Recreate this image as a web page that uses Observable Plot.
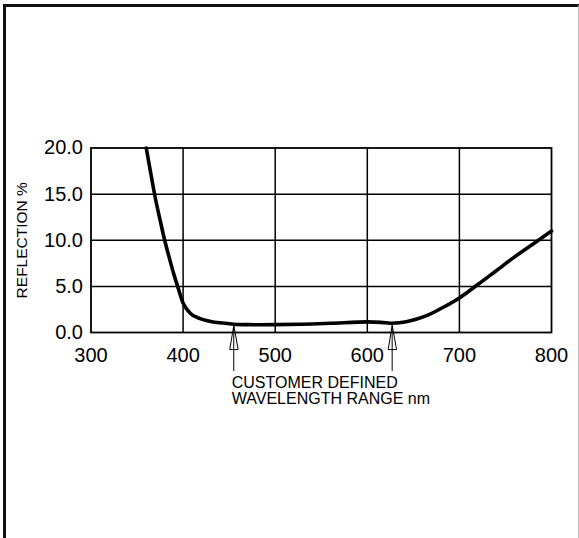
<!DOCTYPE html>
<html>
<head>
<meta charset="utf-8">
<script src="https://cdn.jsdelivr.net/npm/d3@7"></script>
<script src="https://cdn.jsdelivr.net/npm/@observablehq/plot@0.6"></script>
<style>
  html, body { margin: 0; padding: 0; background: #fff; }
  #wrap { position: relative; width: 579px; height: 538px; overflow: hidden; }
  #border { position: absolute; left: 3px; top: 4px; right: 0; bottom: -10px;
            border-top: 3px solid #111; border-left: 3px solid #111; border-right: 1px solid #bbb; box-sizing: border-box; }
  #chart { position: absolute; left: 0; top: 0; }
  #chart svg text { font-family: "Liberation Sans", Arial, sans-serif; }
</style>
</head>
<body>
<div id="wrap"><div id="border"></div><div id="chart"></div></div>
<script>
// Reflection curve (wavelength nm, reflection %)
const wavelength = [360, 365, 370, 375, 380, 385, 390, 395, 400, 405, 410, 420, 430, 440, 455, 470, 500, 530, 560, 600, 615, 625, 635, 650, 665, 680, 700, 720, 740, 760, 780, 800];
const reflection = [20, 17.2, 14.5, 12.2, 10.0, 8.1, 6.3, 4.7, 3.2, 2.4, 1.9, 1.45, 1.2, 1.05, 0.9, 0.85, 0.85, 0.9, 1.0, 1.15, 1.1, 1.0, 1.05, 1.35, 1.85, 2.6, 3.75, 5.2, 6.7, 8.2, 9.6, 11.0];

const xTicks = [300, 400, 500, 600, 700, 800];
const yTicks = [0, 5, 10, 15, 20];
const xGrid = [400, 500, 600, 700];
const yGrid = [5, 10, 15];
const yLabel = "REFLECTION %";

// Customer defined range markers
const markerX = [455, 627];
const markerY = [0.75, 0.75];
const caption = "CUSTOMER DEFINED\nWAVELENGTH RANGE nm";

const data = wavelength.map((w, i) => ({w, r: reflection[i]}));
const markers = markerX.map((x, i) => ({x, y: markerY[i]}));

const arrowShape = {
  draw(ctx, l) {
    const h = 24, wHalf = 4;
    ctx.moveTo(0, 0);
    ctx.lineTo(0, -l);
    ctx.moveTo(0, -l);
    ctx.lineTo(-wHalf, -l + h);
    ctx.lineTo(wHalf, -l + h);
    ctx.closePath();
  }
};

const chart = Plot.plot({
  width: 579,
  height: 538,
  marginLeft: 90.5,
  marginRight: 28,
  marginTop: 147.5,
  marginBottom: 206,
  style: {background: "transparent", color: "#000"},
  x: {domain: [300, 800]},
  y: {domain: [0, 20]},
  marks: [
    Plot.gridX(xGrid, {stroke: "#000", strokeOpacity: 1, strokeWidth: 1.5}),
    Plot.gridY(yGrid, {stroke: "#000", strokeOpacity: 1, strokeWidth: 1.5}),
    Plot.frame({stroke: "#000", strokeWidth: 1.8}),
    Plot.axisX({ticks: xTicks, tickSize: 0, tickPadding: 15, fontSize: 20, label: null, tickFormat: d => String(d)}),
    Plot.axisY({ticks: yTicks, tickSize: 0, tickPadding: 8, fontSize: 20, label: null, tickFormat: d => d.toFixed(1)}),
    Plot.text([yLabel], {frameAnchor: "left", text: d => d, rotate: -90, dx: -69, fontSize: 15.5, textAnchor: "middle"}),
    Plot.line(data, {x: "w", y: "r", curve: "catmull-rom", stroke: "#000", strokeWidth: 3.6}),
    Plot.vector(markers, {x: "x", y: "y", length: 45, rotate: 0, anchor: "end", shape: arrowShape, stroke: "#000", strokeWidth: 1}),
    Plot.text([caption], {x: markerX[0], y: 0, text: d => d, textAnchor: "start", lineAnchor: "top", dx: -2, dy: 44, fontSize: 16, lineHeight: 1})
  ]
});
document.getElementById("chart").appendChild(chart);
</script>
</body>
</html>
